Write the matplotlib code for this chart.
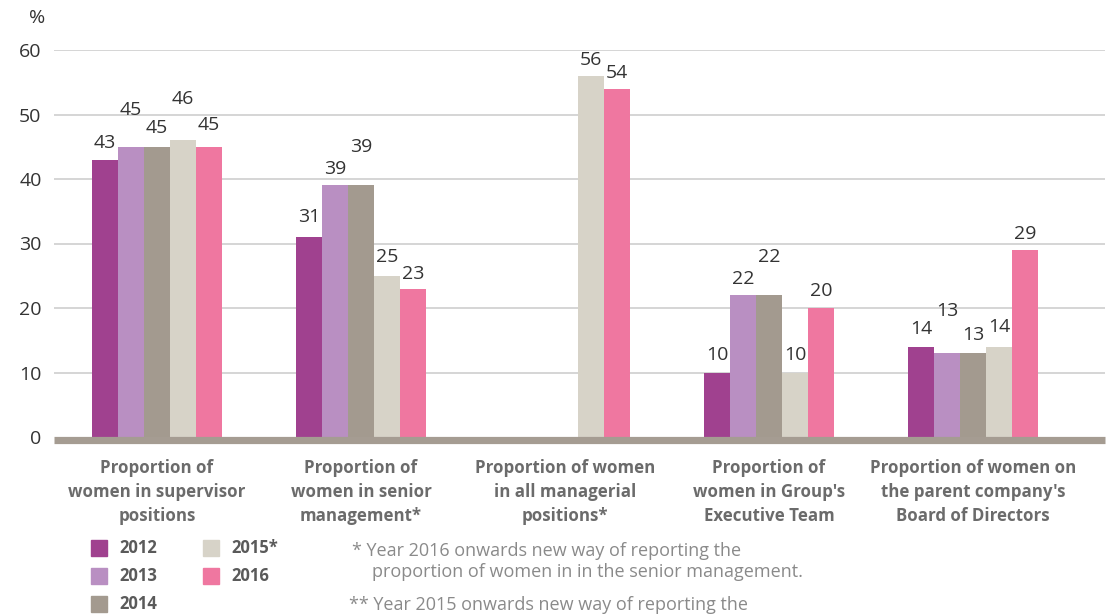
import numpy as np
import matplotlib
matplotlib.use("Agg")
import matplotlib.pyplot as plt
from matplotlib.patches import Rectangle

# ---- data ----
categories = [
    "Proportion of\nwomen in supervisor\npositions",
    "Proportion of\nwomen in senior\nmanagement*",
    "Proportion of women\nin all managerial\npositions*",
    "Proportion of\nwomen in Group's\nExecutive Team",
    "Proportion of women on\nthe parent company's\nBoard of Directors",
]
years = ["2012", "2013", "2014", "2015*", "2016"]
v2012 = [43, 31, None, 10, 14]
v2013 = [45, 39, None, 22, 13]
v2014 = [45, 39, None, 22, 13]
v2015 = [46, 25, 56, 10, 14]
v2016 = [45, 23, 54, 20, 29]
series = [v2012, v2013, v2014, v2015, v2016]
yticks = [0, 10, 20, 30, 40, 50, 60]

# ---- style ----
colors = ["#a0418f", "#b98fc2", "#a39a8f", "#d7d3c8", "#ef77a0"]
# label lift above each bar top (pixels), staggered to keep labels apart
label_lift = [
    [17, 20, 0, 17, 18],
    [37, 16, 0, 16, 42],
    [19, 38, 0, 38, 18],
    [41, 19, 16, 17, 20],
    [22, 15, 16, 17, 16],
]

plt.rcParams["font.family"] = ["Open Sans", "DejaVu Sans"]
NUM_FONT = dict(fontsize=14, color="#333333")
W, H = 1115, 616
fig = plt.figure(figsize=(W / 100, H / 100), dpi=100)
left_px, right_px, bot_px, top_px = 54, 1105, 437, 50
ax = fig.add_axes([left_px / W, 1 - bot_px / H,
                   (right_px - left_px) / W, (bot_px - top_px) / H])

ax.set_xlim(-0.505, 4.647)
ax.set_ylim(0, 60)

bw = 0.1275
x = np.arange(len(categories))
for i, (vals, c) in enumerate(zip(series, colors)):
    for j, v in enumerate(vals):
        if v is None:
            continue
        xc = x[j] + (i - 2) * bw
        ax.bar(xc, v, width=bw, color=c, linewidth=0, zorder=3)
        ax.annotate(str(v), (xc, v), xytext=(0, label_lift[i][j] * 0.72),
                    textcoords="offset points", ha="center", va="center",
                    annotation_clip=False, zorder=4, **NUM_FONT)

# gridlines
for t in yticks[1:]:
    ax.axhline(t, color="#d2d2d2", lw=1.3, zorder=1)
# thick baseline
ax.plot([0, 1], [-0.0065, -0.0065], transform=ax.transAxes, color="#a59c92",
        lw=5.2, solid_capstyle="butt", clip_on=False, zorder=5)

for s in ax.spines.values():
    s.set_visible(False)
ax.set_xticks([])
ax.set_yticks(yticks)
ax.set_yticklabels([str(t) for t in yticks], **NUM_FONT)
ax.tick_params(axis="y", length=0, pad=9)

fig.text(37 / W, 1 - 18 / H, "%", ha="center", va="center", **NUM_FONT)

# category labels
for j, lab in enumerate(categories):
    ax.annotate(lab, (x[j], 0), xytext=(0, -16), textcoords="offset points",
                ha="center", va="top", fontsize=12.2, fontweight="bold",
                color="#6b6b6b", linespacing=1.43, annotation_clip=False)

# legend
legend_pos = [(91, 548), (91, 576), (91, 604), (203, 548), (203, 576)]
for (px, py), lab, c in zip(legend_pos, years, colors):
    fig.patches.append(Rectangle((px / W, 1 - (py + 8) / H), 16 / W, 16 / H,
                                 transform=fig.transFigure, color=c))
    fig.text((px + 28) / W, 1 - py / H, lab, fontsize=12, fontweight="bold",
             color="#5a5a5a", va="center", ha="left")

# footnotes
notes = [
    (352, 551, "* Year 2016 onwards new way of reporting the"),
    (372, 572, "proportion of women in in the senior management."),
    (349, 605, "** Year 2015 onwards new way of reporting the"),
]
for px, py, t in notes:
    fig.text(px / W, 1 - py / H, t, fontsize=13, color="#8a8a8a",
             va="center", ha="left")

fig.savefig("out.png", dpi=100)
